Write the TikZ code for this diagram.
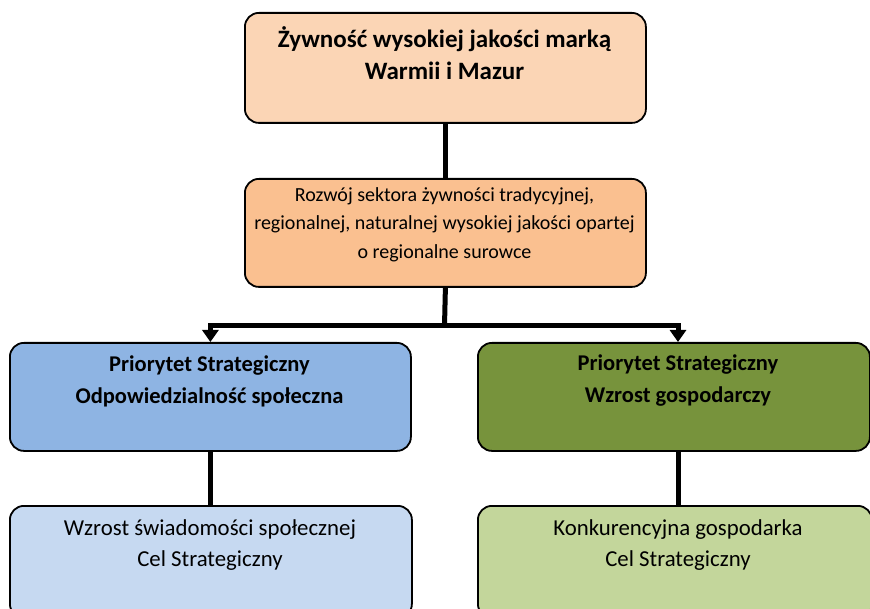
\documentclass[tikz,border=0pt]{standalone}
\usepackage{fontspec}
\setmainfont{Carlito}
\usetikzlibrary{arrows.meta}
\definecolor{topc}{HTML}{FBD5B5}
\definecolor{midc}{HTML}{FAC090}
\definecolor{prioLc}{HTML}{8EB4E3}
\definecolor{prioRc}{HTML}{77933C}
\definecolor{botLc}{HTML}{C6D9F1}
\definecolor{botRc}{HTML}{C3D69B}
\begin{document}
\begin{tikzpicture}[x=1pt,y=-1pt,
  box/.style={draw=black, line width=1.8pt, rounded corners=14pt, inner sep=0pt, anchor=north west},
  conn/.style={line width=5pt},
  txt/.style={align=center, inner sep=0pt},
  topfont/.style={font=\bfseries\fontsize{25}{32}\selectfont},
  priofont/.style={font=\bfseries\fontsize{22.5}{32}\selectfont},
  midfont/.style={font=\fontsize{20}{28.5}\selectfont},
  botfont/.style={font=\fontsize{22.8}{31}\selectfont}]
\useasboundingbox (0,0) rectangle (870,609);
\clip (0,0) rectangle (870,609);
% boxes
\node[box, fill=topc, minimum width=401pt, minimum height=110pt] (top) at (244,12) {};
\node[box, fill=midc, minimum width=401pt, minimum height=108pt] (mid) at (244,178) {};
\node[box, fill=prioLc, minimum width=401pt, minimum height=108pt] (prioL) at (9,342) {};
\node[box, fill=prioRc, minimum width=392pt, minimum height=108pt] (prioR) at (477,342) {};
\node[box, fill=botLc, minimum width=402pt, minimum height=112pt] (botL) at (9,505) {};
\node[box, fill=botRc, minimum width=394pt, minimum height=112pt] (botR) at (477,505) {};
% texts
\node[txt, topfont] (toptxt) at (444.5,53.5) {Żywność wysokiej jakości marką\\Warmii i Mazur};
\node[txt, midfont] (midtxt) at (444.5,224.5) {Rozwój sektora żywności tradycyjnej,\\regionalnej, naturalnej wysokiej jakości opartej\\o regionalne surowce};
\node[txt, priofont] (prioLtxt) at (209.5,381) {Priorytet Strategiczny\\Odpowiedzialność społeczna};
\node[txt, priofont] (prioRtxt) at (678,381) {Priorytet Strategiczny\\Wzrost gospodarczy};
\node[txt, botfont] (botLtxt) at (210,545) {Wzrost świadomości społecznej\\Cel Strategiczny};
\node[txt, botfont] (botRtxt) at (678,545) {Konkurencyjna gospodarka\\Cel Strategiczny};
% connectors
\coordinate (split) at (444.5,326);
\coordinate (rx) at (678,0);
\draw[conn] (top.south) -- (mid.north);
\draw[conn] (mid.south) -- (split);
\draw[conn, -{Triangle[length=12pt,width=16pt]}] (split) -| (prioL.north);
\draw[conn, -{Triangle[length=12pt,width=16pt]}] (split) -| (prioR.north -| rx);
\draw[conn] (prioL.south) -- (botL.north -| prioL.south);
\draw[conn] (prioR.south -| rx) -- (botR.north -| rx);
\end{tikzpicture}
\end{document}
